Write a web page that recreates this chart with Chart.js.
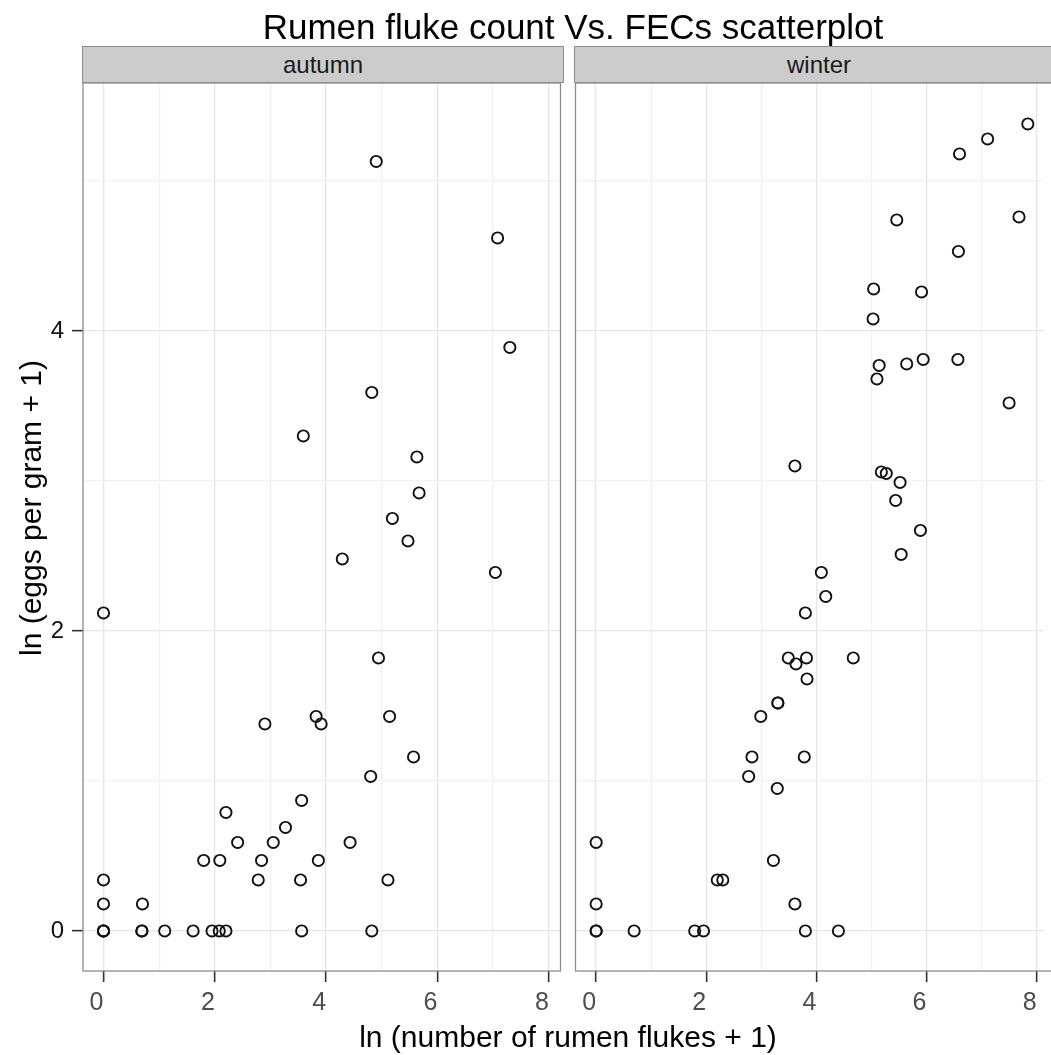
<!DOCTYPE html>
<html>
<head>
<meta charset="utf-8">
<script src="https://cdn.jsdelivr.net/npm/chart.js@4.4.1/dist/chart.umd.min.js"></script>
<style>
  html, body { margin: 0; padding: 0; background: #fff; }
  body {
    width: 1051px; height: 1055px; position: relative; overflow: hidden;
    font-family: "Liberation Sans", Arial, Helvetica, sans-serif; color: #000;
  }
  canvas { position: absolute; top: 0; }
  .txt { position: absolute; white-space: nowrap; line-height: 1; }
  #title { left: 573px; top: 9px; font-size: 35px; transform: translateX(-50%); }
  #xtitle { left: 568px; top: 1022px; font-size: 30px; transform: translateX(-50%); }
  #ytitle { left: 31px; top: 508px; font-size: 30px; transform: translate(-50%, -50%) rotate(-90deg); }
  .strip {
    position: absolute; top: 46px; height: 37px; box-sizing: border-box;
    background: #cccccc; border: 1.3px solid #8c8c8c;
    display: flex; align-items: center; justify-content: center;
    font-size: 24px; color: #1a1a1a;
  }
</style>
</head>
<body>
<canvas id="autumnChart" width="568" height="1055" style="left:0"></canvas>
<canvas id="winterChart" width="483" height="1055" style="left:568px"></canvas>

<div class="txt" id="title">Rumen fluke count Vs. FECs scatterplot</div>
<div class="strip" style="left:82px;width:482px">autumn</div>
<div class="strip" style="left:574px;width:490px">winter</div>
<div class="txt" id="ytitle">ln (eggs per gram + 1)</div>
<div class="txt" id="xtitle">ln (number of rumen flukes + 1)</div>

<script>
// ===== Data =====
const autumnX = [4.90, 7.08, 7.30, 4.82, 3.59, 5.63, 5.67, 5.19, 5.47, 4.29, 7.04, 0,
                 4.94, 2.90, 3.82, 3.91, 5.14, 5.57, 4.80, 3.56, 2.20, 3.27, 2.41, 3.05,
                 4.43, 1.80, 2.09, 2.84, 3.86, 0, 2.78, 3.54, 5.11, 0, 0.70,
                 0, 0, 0, 0.69, 0.69, 1.10, 1.61, 1.95, 2.08, 2.20, 3.56, 4.82];
const autumnY = [5.13, 4.62, 3.89, 3.59, 3.30, 3.16, 2.92, 2.75, 2.60, 2.48, 2.39, 2.12,
                 1.82, 1.38, 1.43, 1.38, 1.43, 1.16, 1.03, 0.87, 0.79, 0.69, 0.59, 0.59,
                 0.59, 0.47, 0.47, 0.47, 0.47, 0.34, 0.34, 0.34, 0.34, 0.18, 0.18,
                 0, 0, 0, 0, 0, 0, 0, 0, 0, 0, 0, 0];

const winterX = [7.84, 7.11, 6.60, 5.46, 7.68, 6.58, 5.04, 5.91, 5.03, 5.14, 5.64, 5.94,
                 6.57, 5.10, 7.50, 3.61, 5.18, 5.27, 5.52, 5.44, 5.89, 5.54, 4.09, 4.17,
                 3.80, 3.49, 3.63, 3.82, 4.67, 3.83, 3.30, 3.30, 2.99, 2.83, 3.78, 2.77,
                 3.29, 0, 3.22, 2.20, 2.30, 0, 3.61, 0, 0, 0.69, 1.79, 1.95, 3.80, 4.40];
const winterY = [5.38, 5.28, 5.18, 4.74, 4.76, 4.53, 4.28, 4.26, 4.08, 3.77, 3.78, 3.81,
                 3.81, 3.68, 3.52, 3.10, 3.06, 3.05, 2.99, 2.87, 2.67, 2.51, 2.39, 2.23,
                 2.12, 1.82, 1.78, 1.82, 1.82, 1.68, 1.52, 1.52, 1.43, 1.16, 1.16, 1.03,
                 0.95, 0.59, 0.47, 0.34, 0.34, 0.18, 0.18, 0, 0, 0, 0, 0, 0, 0];

// ticks: majors get a label and a tick mark, the rest are minor grid lines
const xGridValues = [0, 1, 2, 3, 4, 5, 6, 7, 8];
const xMajorTicks = [0, 2, 4, 6, 8];
const yGridValues = [0, 1, 2, 3, 4, 5];
const yMajorTicks = [0, 2, 4];

const xRange = { min: -0.368, max: 8.21 };
const xRangeWinter = { min: -0.375, max: 8.125 };
const yRange = { min: -0.267, max: 5.653 };

// ===== Style =====
const FONT = '"Liberation Sans", Arial, Helvetica, sans-serif';
const GRID_MAJOR = "#e6e6e6";
const GRID_MINOR = "#f1f1f1";
const TICK_COLOR = "#333333";

const toPoints = (xs, ys) => xs.map((x, i) => ({ x, y: ys[i] }));

const panelBorder = {
  id: "panelBorder",
  afterDraw(chart, args, opts) {
    const { ctx, chartArea: a } = chart;
    ctx.save();
    ctx.strokeStyle = "#8c8c8c";
    ctx.lineWidth = 1.3;
    ctx.strokeRect(a.left, a.top, a.right - a.left + (opts.openRight ? 10 : 0), a.bottom - a.top);
    ctx.restore();
  }
};

function gridOpts(majors, withTicks) {
  return {
    color: (c) => (c.tick && majors.includes(c.tick.value)) ? GRID_MAJOR : GRID_MINOR,
    lineWidth: 1.3,
    drawTicks: withTicks,
    tickLength: 11,
    tickWidth: 1.6,
    tickColor: (c) => (c.tick && majors.includes(c.tick.value)) ? TICK_COLOR : "rgba(0,0,0,0)"
  };
}

function mkPanel(canvasId, xs, ys, range, showY, padLeft, padRight) {
  return new Chart(document.getElementById(canvasId), {
    type: "scatter",
    data: {
      datasets: [{
        data: toPoints(xs, ys),
        pointStyle: "circle",
        pointRadius: 5.6,
        pointHoverRadius: 5.6,
        pointBorderWidth: 1.9,
        pointBorderColor: "#111111",
        pointBackgroundColor: "rgba(0,0,0,0)"
      }]
    },
    options: {
      responsive: false,
      animation: false,
      events: [],
      layout: { padding: { top: 83, left: padLeft, right: padRight, bottom: 0 } },
      scales: {
        x: {
          type: "linear",
          min: range.min,
          max: range.max,
          afterBuildTicks: (s) => { s.ticks = xGridValues.map(v => ({ value: v })); },
          afterFit: (s) => { s.height = 84; },
          grid: gridOpts(xMajorTicks, true),
          border: { display: false },
          ticks: {
            align: "end",
            padding: 6,
            color: "#4d4d4d",
            font: { family: FONT, size: 25 },
            callback: (v) => xMajorTicks.includes(v) ? String(v) : ""
          }
        },
        y: {
          type: "linear",
          min: yRange.min,
          max: yRange.max,
          afterBuildTicks: (s) => { s.ticks = yGridValues.map(v => ({ value: v })); },
          afterFit: (s) => { s.width = showY ? 83 : 0; },
          grid: gridOpts(yMajorTicks, showY),
          border: { display: false },
          ticks: {
            display: showY,
            padding: 8,
            color: "#111111",
            font: { family: FONT, size: 24 },
            callback: (v) => yMajorTicks.includes(v) ? String(v) : ""
          }
        }
      },
      plugins: {
        legend: { display: false },
        tooltip: { enabled: false },
        panelBorder: { openRight: !showY }
      }
    },
    plugins: [panelBorder]
  });
}

mkPanel("autumnChart", autumnX, autumnY, xRange, true, 0, 4.5);
mkPanel("winterChart", winterX, winterY, xRangeWinter, false, 7, 0);
</script>
</body>
</html>
